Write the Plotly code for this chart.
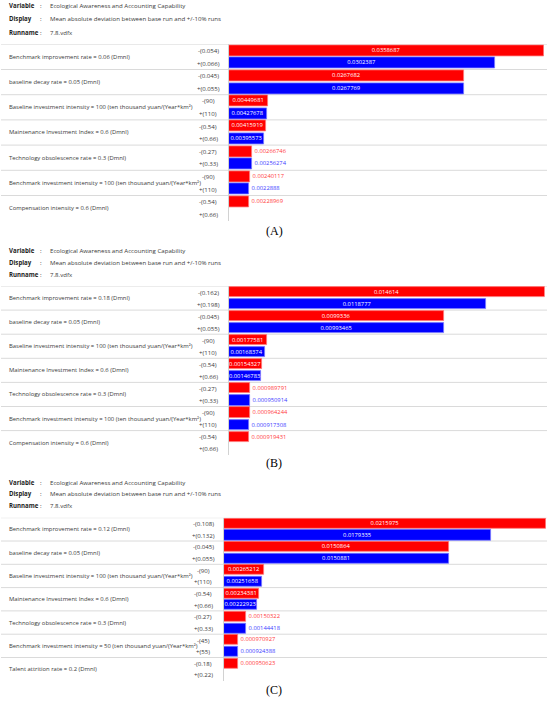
import plotly.graph_objects as go

# ---------------- data ----------------
KM = "(ten thousand yuan/(Year*km²)"
header_variable = "Ecological Awareness and Accounting Capability"
header_display = "Mean absolute deviation between base run and +/-10% runs"
header_runname = "7.8.vdfx"

A_vars = ["Benchmark improvement rate = 0.06 (Dmnl)",
          "baseline decay rate = 0.05 (Dmnl)",
          "Baseline investment intensity = 100 " + KM,
          "Maintenance Investment Index = 0.6 (Dmnl)",
          "Technology obsolescence rate = 0.3 (Dmnl)",
          "Benchmark investment intensity = 100 " + KM,
          "Compensation intensity = 0.6 (Dmnl)"]
A_low = ["-(0.054)", "-(0.045)", "-(90)", "-(0.54)", "-(0.27)", "-(90)", "-(0.54)"]
A_high = ["+(0.066)", "+(0.055)", "+(110)", "+(0.66)", "+(0.33)", "+(110)", "+(0.66)"]
A_minus = [0.0358687, 0.0267682, 0.00449681, 0.00415919, 0.00266746, 0.00240117, 0.00228969]
A_plus = [0.0302387, 0.0267769, 0.00427678, 0.00395573, 0.00256274, 0.0022888, None]

B_vars = ["Benchmark improvement rate = 0.18 (Dmnl)",
          "baseline decay rate = 0.05 (Dmnl)",
          "Baseline investment intensity = 100 " + KM,
          "Maintenance Investment Index = 0.6 (Dmnl)",
          "Technology obsolescence rate = 0.3 (Dmnl)",
          "Benchmark investment intensity = 100 " + KM,
          "Compensation intensity = 0.6 (Dmnl)"]
B_low = ["-(0.162)", "-(0.045)", "-(90)", "-(0.54)", "-(0.27)", "-(90)", "-(0.54)"]
B_high = ["+(0.198)", "+(0.055)", "+(110)", "+(0.66)", "+(0.33)", "+(110)", "+(0.66)"]
B_minus = [0.014614, 0.0099336, 0.00177581, 0.00154327, 0.000989791, 0.000964244, 0.000919431]
B_plus = [0.0118777, 0.00993465, 0.00168374, 0.00146783, 0.000950914, 0.000917308, None]

C_vars = ["Benchmark improvement rate = 0.12 (Dmnl)",
          "baseline decay rate = 0.05 (Dmnl)",
          "Baseline investment intensity = 100 " + KM,
          "Maintenance Investment Index = 0.6 (Dmnl)",
          "Technology obsolescence rate = 0.3 (Dmnl)",
          "Benchmark investment intensity = 50 " + KM,
          "Talent attrition rate = 0.2 (Dmnl)"]
C_low = ["-(0.108)", "-(0.045)", "-(90)", "-(0.54)", "-(0.27)", "-(45)", "-(0.18)"]
C_high = ["+(0.132)", "+(0.055)", "+(110)", "+(0.66)", "+(0.33)", "+(55)", "+(0.22)"]
C_minus = [0.0215975, 0.0150864, 0.00265212, 0.00234381, 0.00150322, 0.000970927, 0.000950623]
C_plus = [0.0179335, 0.0150881, 0.00251658, 0.00222923, 0.00144418, 0.000924388, None]

panel_labels = ["(A)", "(B)", "(C)"]

# ---------------- layout geometry (pixels) ----------------
W, H = 550, 701
FONT = "Open Sans"
TXT = "#3a3a3a"
RED, BLUE = "#ff0000", "#0000ff"
GRID = "#dadada"
FS = 5.9      # variable label font size
TS = 6.1      # +/- label and header font size
VS = 5.8      # value font size

panels = [
    dict(vars=A_vars, low=A_low, high=A_high, minus=A_minus, plus=A_plus,
         hdr=(6, 19, 32), top=44.3, pitch=25.2, x0=229, x1=544, tick_cx=208,
         bw=0.87, label_y=231),
    dict(vars=B_vars, low=B_low, high=B_high, minus=B_minus, plus=B_plus,
         hdr=(250, 262, 274), top=286, pitch=24.1, x0=229, x1=544.7, tick_cx=208,
         bw=0.84, label_y=463),
    dict(vars=C_vars, low=C_low, high=C_high, minus=C_minus, plus=C_plus,
         hdr=(482, 494, 505), top=517.7, pitch=23.3, x0=224, x1=546, tick_cx=203,
         bw=0.87, label_y=690),
]


def px(x):
    return x / W


def py(y):
    return 1 - y / H


fig = go.Figure()
annotations = []
shapes = []
layout_axes = {}

for k, p in enumerate(panels, start=1):
    xa = "x" if k == 1 else f"x{k}"
    ya = "y" if k == 1 else f"y{k}"
    n = len(p["vars"])
    vmax = max(v for v in p["minus"] + p["plus"] if v is not None)

    for vals, color, line_c, out_c, offset in [
        (p["minus"], RED, "#ff7777", "#ff3b3b", 0),
        (p["plus"], BLUE, "#7777ff", "#3c3cff", 1),
    ]:
        xs, ys, texts, tpos = [], [], [], []
        for i, v in enumerate(vals):
            if v is None:
                continue
            xs.append(v)
            ys.append(2 * i + offset)
            texts.append(f"{v:g}")
            tpos.append("inside" if v / vmax > 0.085 else "outside")
        fig.add_trace(go.Bar(
            x=xs, y=ys, orientation="h", width=p["bw"],
            marker=dict(color=color, line=dict(color=line_c, width=0.8)),
            text=texts, textposition=tpos, insidetextanchor="middle",
            constraintext="none", cliponaxis=False,
            insidetextfont=dict(family=FONT, size=VS, color="white"),
            outsidetextfont=dict(family=FONT, size=VS, color=out_c),
            xaxis=xa, yaxis=ya, showlegend=False, hoverinfo="skip",
        ))

    bottom = p["top"] + n * p["pitch"]
    layout_axes["xaxis" if k == 1 else f"xaxis{k}"] = dict(
        domain=[px(p["x0"]), px(p["x1"])], range=[0, vmax], autorange=False,
        showgrid=False, zeroline=False, showticklabels=False, ticks="",
        anchor=ya, fixedrange=True)
    layout_axes["yaxis" if k == 1 else f"yaxis{k}"] = dict(
        domain=[py(bottom), py(p["top"])], range=[2 * n - 0.5, -0.5],
        autorange=False, showgrid=False, zeroline=False, showticklabels=False,
        ticks="", showline=True, linecolor="#d2d2d2", linewidth=1,
        anchor=xa, fixedrange=True)

    # row separators
    for i in range(n):
        shapes.append(dict(type="line", xref="paper", yref=ya,
                           x0=px(1), x1=px(547), y0=2 * i - 0.5, y1=2 * i - 0.5,
                           line=dict(color=GRID, width=1), layer="below"))

    # variable names and +/- labels
    for i in range(n):
        annotations.append(dict(xref="paper", yref=ya, x=px(7), y=2 * i + 0.5,
                                xanchor="left", yanchor="middle", showarrow=False,
                                text=p["vars"][i],
                                font=dict(family=FONT, size=FS, color=TXT)))
        annotations.append(dict(xref="paper", yref=ya, x=px(p["tick_cx"]), y=2 * i,
                                xanchor="center", yanchor="middle", showarrow=False,
                                text=p["low"][i],
                                font=dict(family=FONT, size=TS, color=TXT)))
        annotations.append(dict(xref="paper", yref=ya, x=px(p["tick_cx"]), y=2 * i + 1,
                                xanchor="center", yanchor="middle", showarrow=False,
                                text=p["high"][i],
                                font=dict(family=FONT, size=TS, color=TXT)))

    # header
    for (lab, val), hy in zip([("Variable", header_variable),
                               ("Display", header_display),
                               ("Runname", header_runname)], p["hdr"]):
        annotations.append(dict(xref="paper", yref="paper", x=px(7), y=py(hy),
                                xanchor="left", yanchor="middle", showarrow=False,
                                text=f"<b>{lab}</b>",
                                font=dict(family=FONT, size=TS, color="#222")))
        annotations.append(dict(xref="paper", yref="paper", x=px(38), y=py(hy),
                                xanchor="left", yanchor="middle", showarrow=False,
                                text=":", font=dict(family=FONT, size=TS, color="#222")))
        annotations.append(dict(xref="paper", yref="paper", x=px(47.5), y=py(hy),
                                xanchor="left", yanchor="middle", showarrow=False,
                                text=val, font=dict(family=FONT, size=TS, color=TXT)))

    # panel label
    annotations.append(dict(xref="paper", yref="paper", x=px(274), y=py(p["label_y"]),
                            xanchor="center", yanchor="middle", showarrow=False,
                            text=panel_labels[k - 1],
                            font=dict(family="Liberation Serif", size=12, color="black")))

fig.update_layout(
    width=W, height=H, margin=dict(l=0, r=0, t=0, b=0),
    paper_bgcolor="white", plot_bgcolor="white",
    annotations=annotations, shapes=shapes, bargap=0,
    **layout_axes,
)

fig.write_html("out.html", config={"displayModeBar": False},
               post_script="document.body.style.margin='0';")
